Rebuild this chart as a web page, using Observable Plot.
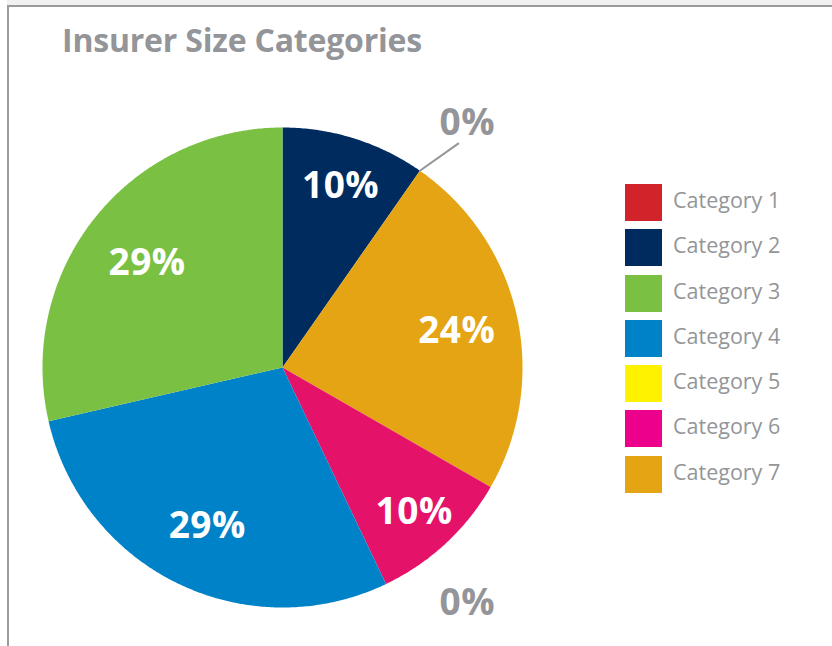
<!DOCTYPE html>
<html>
<head>
<meta charset="utf-8">
<script src="https://cdn.jsdelivr.net/npm/d3@7"></script>
<script src="https://cdn.jsdelivr.net/npm/@observablehq/plot@0.6"></script>
<style>
  html, body { margin: 0; padding: 0; background: #fff; }
  #wrap { position: relative; width: 832px; height: 646px; overflow: hidden; background: #fff; font-family: "Open Sans", sans-serif; }
  #band { position: absolute; left: 7px; top: 0; width: 825px; height: 5px; background: #f1f1f1; }
  #frame { position: absolute; left: 7px; top: 5px; width: 840px; height: 700px; border-top: 2px solid #9b9b9b; border-left: 2px solid #9b9b9b; box-sizing: border-box; }
  #title { position: absolute; left: 62px; top: 18px; font-size: 32px; font-weight: 700; color: #939598; letter-spacing: -0.2px; white-space: nowrap; }
  #chart { position: absolute; left: 0; top: 0; }
  #chart text { letter-spacing: 0.5px; }
  #legend { position: absolute; left: 625px; top: 184px; }
  .item { display: flex; align-items: center; height: 37px; margin-bottom: 8.3px; }
  .sw { width: 37px; height: 37px; margin-right: 11px; }
  .lab { font-size: 21.5px; color: #939598; font-weight: 400; white-space: nowrap; position: relative; top: -3px; }
</style>
</head>
<body>
<div id="wrap">
  <div id="band"></div>
  <div id="frame"></div>
  <div id="title">Insurer Size Categories</div>
  <div id="chart"></div>
  <div id="legend"></div>
</div>
<script>
// ---- data ----
const categories = ["Category 1", "Category 2", "Category 3", "Category 4", "Category 5", "Category 6", "Category 7"];
const values = [0, 9.7, 28.6, 28.5, 0, 9.6, 23.6];
const legendColors = ["#d2232a", "#002b5f", "#7ac143", "#0082c8", "#fff200", "#ec008c", "#e5a413"];
const sliceColors = ["#d2232a", "#002b5f", "#7ac143", "#0082c8", "#fff200", "#e5126a", "#e5a413"];
// clockwise order of slices, starting at 12 o'clock
const sliceOrder = ["Category 2", "Category 1", "Category 7", "Category 6", "Category 5", "Category 4", "Category 3"];

// ---- layout ----
const W = 832, H = 646, CX = 282, CY = 367, R = 240;

const rows = sliceOrder.map(c => ({cat: c, value: values[categories.indexOf(c)]}));
const arcs = d3.pie().sort(null).value(d => d.value)(rows);

// polygon points for each slice in unit-circle coordinates
const pts = [];
for (const a of arcs) {
  if (a.endAngle - a.startAngle <= 0) continue;
  const n = Math.max(2, Math.ceil((a.endAngle - a.startAngle) / (Math.PI / 360)));
  pts.push({cat: a.data.cat, x: 0, y: 0});
  for (let i = 0; i <= n; i++) {
    const t = a.startAngle + (a.endAngle - a.startAngle) * i / n;
    pts.push({cat: a.data.cat, x: Math.sin(t), y: Math.cos(t)});
  }
  pts.push({cat: a.data.cat, x: 0, y: 0});
}

const inside = [], outside = [], leaders = [];
for (const a of arcs) {
  const mid = (a.startAngle + a.endAngle) / 2;
  const label = Math.round(a.data.value) + "%";
  if (a.data.value > 0) {
    // best-fit style: narrow slices push their labels further out
    const rr = 0.85 - 0.0045 * a.data.value;
    inside.push({x: rr * Math.sin(mid), y: rr * Math.cos(mid), label});
  } else {
    const lx = Math.max(0.77, 1.3 * Math.sin(mid));
    const ly = Math.max(-0.975, Math.min(1.025, 1.3 * Math.cos(mid)));
    outside.push({x: lx, y: ly, label});
    if (mid < Math.PI / 2) {
      leaders.push({x1: Math.sin(mid), y1: Math.cos(mid), x2: lx - 0.035, y2: ly - 0.09});
    }
  }
}

const font = "'Open Sans', sans-serif";
const plot = Plot.plot({
  width: W, height: H,
  margin: 0,
  x: {domain: [-CX / R, (W - CX) / R], range: [0, W], axis: null},
  y: {domain: [-(H - CY) / R, CY / R], range: [H, 0], axis: null},
  color: {domain: categories, range: sliceColors},
  style: {background: "transparent", overflow: "visible"},
  marks: [
    Plot.line(pts, {x: "x", y: "y", z: "cat", fill: "cat", stroke: "none", curve: "linear"}),
    Plot.link(leaders, {x1: "x1", y1: "y1", x2: "x2", y2: "y2", stroke: "#939598", strokeWidth: 2}),
    Plot.text(inside, {x: "x", y: "y", text: "label", fill: "white", fontSize: 37, fontWeight: 700, fontFamily: font, textAnchor: "middle", lineAnchor: "middle", dy: 3}),
    Plot.text(outside, {x: "x", y: "y", text: "label", fill: "#939598", fontSize: 37, fontWeight: 700, fontFamily: font, textAnchor: "middle", lineAnchor: "middle", dy: 2})
  ]
});
document.getElementById("chart").appendChild(plot);

const legend = document.getElementById("legend");
categories.forEach((c, i) => {
  const item = document.createElement("div");
  item.className = "item";
  const sw = document.createElement("div");
  sw.className = "sw";
  sw.style.background = legendColors[i];
  const lab = document.createElement("div");
  lab.className = "lab";
  lab.textContent = c;
  item.appendChild(sw);
  item.appendChild(lab);
  legend.appendChild(item);
});
</script>
</body>
</html>
